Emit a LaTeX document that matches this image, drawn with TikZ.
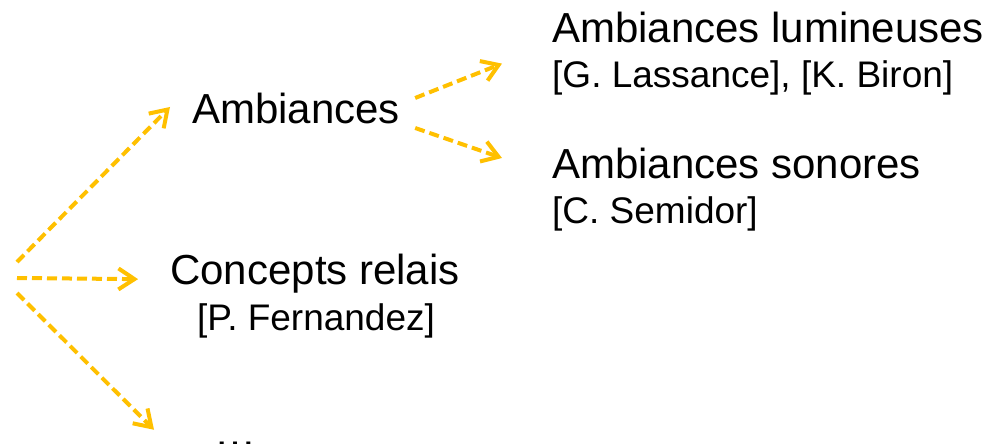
\documentclass[tikz,border=0pt]{standalone}
\usepackage{fontspec}
\setmainfont{Liberation Sans}
\usetikzlibrary{arrows.meta}
\definecolor{gold}{HTML}{FFC000}

\begin{document}
\begin{tikzpicture}[
            x=1pt,
            y=-1pt,
            topic/.style={inner sep=0pt, font=\fontsize{42}{46}\selectfont},
            author/.style={inner sep=0pt, font=\fontsize{37}{40}\selectfont},
            link/.style={draw=gold, line width=4pt, dash pattern=on 10pt off 5pt,
              -{Straight Barb[length=16pt, width=21pt]}},
          ]
          \useasboundingbox (0,0) rectangle (998,444);
          \coordinate (o1) at (17,262);
          \coordinate (o2) at (17,278);
          \coordinate (o3) at (17,293);
          \node[topic, anchor=base west] (amb) at (192,123) {Ambiances};
          \node[topic, anchor=base west] (lum) at (552,43) {Ambiances lumineuses};
          \node[author, anchor=base west] (lumby) at (552,87) {[G. Lassance], [K. Biron]};
          \node[topic, anchor=base west] (son) at (552,178) {Ambiances sonores};
          \node[author, anchor=base west] (sonby) at (552,223) {[C. Semidor]};
          \node[topic, anchor=base] (rel) at (315,284) {Concepts relais};
          \node[author, anchor=base] (relby) at (316,330) {[P. Fernandez]};
          \node[topic, anchor=base west] (etc) at (214,446) {…};
          \draw[link] (o1) -- ([shift={(-22,-1)}]amb.west);
          \draw[link] (o2) -- ([shift={(-32,6)}]rel.west);
          \draw[link] (o3) -- ([shift={(-60,-14)}]etc.west);
          \draw[link] ([shift={(15,-10)}]amb.east) -- ([shift={(-50,20)}]lum.south west);
          \draw[link] ([shift={(15,20)}]amb.east) -- ([shift={(-50,-5)}]son.west);
        \end{tikzpicture}
\end{document}
